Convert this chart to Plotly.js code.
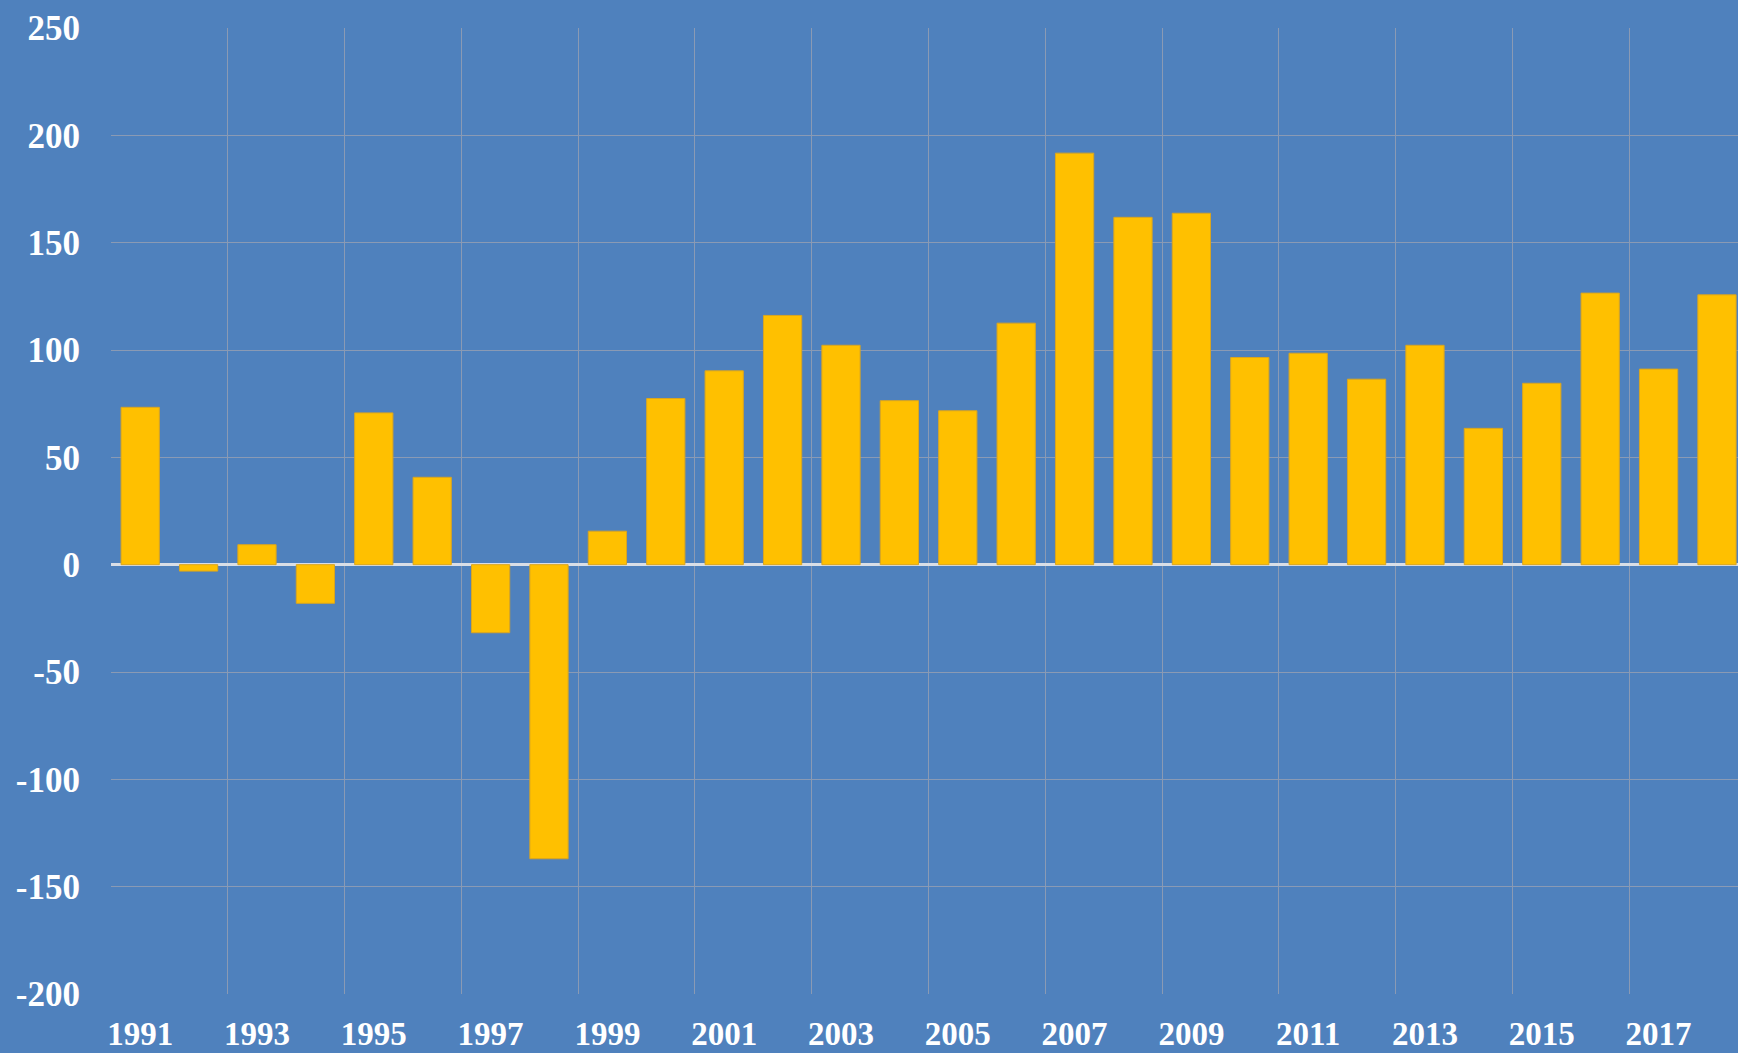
<!DOCTYPE html>
<html>
<head>
<meta charset="utf-8">
<script src="https://cdn.plot.ly/plotly-3.0.1.min.js"></script>
<style>html,body{margin:0;padding:0;background:#4F81BD;}#chart{width:1738px;height:1053px;}</style>
</head>
<body>
<div id="chart"></div>
<script>
const years = [1991,1992,1993,1994,1995,1996,1997,1998,1999,2000,2001,2002,2003,2004,2005,2006,2007,2008,2009,2010,2011,2012,2013,2014,2015,2016,2017,2018];
const values = [73.3,-3,9.3,-18,70.7,40.7,-31.7,-137,15.6,77.4,90.3,116.1,102.2,76.4,71.7,112.5,191.7,161.8,163.7,96.5,98.5,86.4,102.2,63.5,84.5,126.5,91.1,125.7];
const tickLabelYears = years.filter((y, i) => i % 2 === 0);
const yTicks = [-200,-150,-100,-50,0,50,100,150,200,250];

const boundaries = tickLabelYears.map(y => y - 0.5);

const trace = {
  type: 'bar',
  x: years,
  y: values,
  marker: {color: '#FFC000', line: {color: '#D9A520', width: 1}},
  width: 0.655,
  hoverinfo: 'x+y'
};

const family = '"Liberation Serif", "Times New Roman", serif';
const xFont = {family: family, size: 33, color: '#FFFFFF', weight: 'bold'};
const yFont = {family: family, size: 35, color: '#FFFFFF', weight: 'bold'};

const layout = {
  width: 1738,
  height: 1053,
  paper_bgcolor: '#4F81BD',
  plot_bgcolor: '#4F81BD',
  margin: {l: 111, r: 0, t: 28, b: 59, pad: 0},
  showlegend: false,
  font: xFont,
  xaxis: {
    type: 'linear',
    range: [1990.5, 2018.36],
    tickmode: 'array',
    tickvals: tickLabelYears,
    ticktext: tickLabelYears.map(String),
    showgrid: false,
    zeroline: false,
    ticks: '',
    tickfont: xFont,
    ticklabelstandoff: 17,
    minor: {tickmode: 'array', tickvals: boundaries, showgrid: true, gridcolor: '#8A9AB4', gridwidth: 1, ticks: ''},
    fixedrange: true
  },
  yaxis: {
    range: [-200, 250],
    tickmode: 'array',
    tickvals: yTicks,
    ticktext: yTicks.map(String),
    showgrid: true,
    gridcolor: '#8A9AB4',
    gridwidth: 1,
    zeroline: true,
    zerolinecolor: '#D9DEE6',
    zerolinewidth: 2.5,
    ticks: '',
    tickfont: yFont,
    ticklabelstandoff: 30,
    fixedrange: true
  }
};

Plotly.newPlot('chart', [trace], layout, {displayModeBar: false, staticPlot: true});
</script>
</body>
</html>
